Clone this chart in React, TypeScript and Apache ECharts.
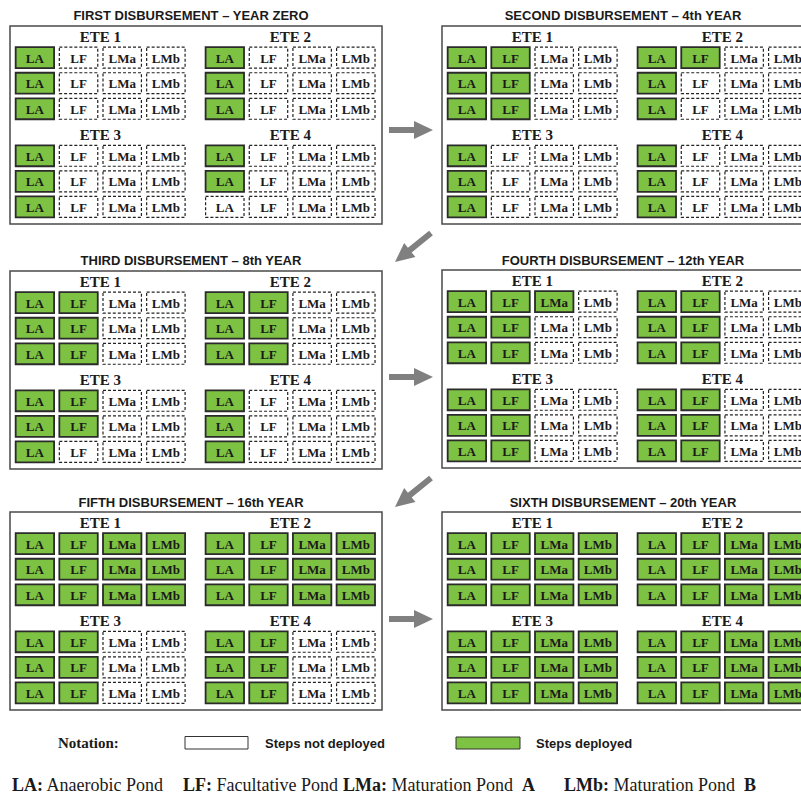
import React, { useEffect, useRef } from "react";
import * as echarts from "echarts";

// ---- data ----
const ponds = ["LA", "LF", "LMa", "LMb"];
const etes = ["ETE 1", "ETE 2", "ETE 3", "ETE 4"];
const unitsPerPond = 3;
const panelTitles = [
  "FIRST DISBURSEMENT – YEAR ZERO",
  "SECOND DISBURSEMENT – 4th YEAR",
  "THIRD DISBURSEMENT – 8th YEAR",
  "FOURTH DISBURSEMENT – 12th YEAR",
  "FIFTH DISBURSEMENT – 16th YEAR",
  "SIXTH DISBURSEMENT – 20th YEAR",
];
// number of deployed units (out of 3) for [LA, LF, LMa, LMb] in each ETE
const firstDeployed = [[3, 0, 0, 0], [3, 0, 0, 0], [3, 0, 0, 0], [2, 0, 0, 0]];
const secondDeployed = [[3, 3, 0, 0], [3, 1, 0, 0], [3, 0, 0, 0], [3, 0, 0, 0]];
const thirdDeployed = [[3, 3, 0, 0], [3, 3, 0, 0], [3, 2, 0, 0], [3, 0, 0, 0]];
const fourthDeployed = [[3, 3, 1, 0], [3, 3, 0, 0], [3, 3, 0, 0], [3, 3, 0, 0]];
const fifthDeployed = [[3, 3, 3, 3], [3, 3, 3, 3], [3, 3, 0, 0], [3, 3, 0, 0]];
const sixthDeployed = [[3, 3, 3, 3], [3, 3, 3, 3], [3, 3, 3, 3], [3, 3, 3, 3]];
const legendLabels = ["Steps not deployed", "Steps deployed"];
const notation = [
  { code: "LA:", name: "Anaerobic Pond", suffix: "" },
  { code: "LF:", name: "Facultative Pond", suffix: "" },
  { code: "LMa:", name: "Maturation Pond", suffix: "A" },
  { code: "LMb:", name: "Maturation Pond", suffix: "B" },
];

const allPanels = [firstDeployed, secondDeployed, thirdDeployed, fourthDeployed, fifthDeployed, sixthDeployed];

// ---- layout / style ----
const GREEN = "#7dc242";
const SERIF = "Liberation Serif";
const SANS = "Liberation Sans";
const GAP_X = 4.35;
const GAP_Y = 3.84;
const panelBoxes = [
  { left: 10, top: 26, title: 15 },
  { left: 442, top: 26, title: 15 },
  { left: 10, top: 271, title: 260 },
  { left: 442, top: 270, title: 260 },
  { left: 10, top: 512, title: 502 },
  { left: 442, top: 512, title: 502 },
];
const BOX_W = 372;
const BOX_H = 198;
const CANVAS_W = 830;

function arrowPoints(tail: number[], tip: number[]) {
  const dx = tip[0] - tail[0];
  const dy = tip[1] - tail[1];
  const len = Math.sqrt(dx * dx + dy * dy);
  const ux = dx / len, uy = dy / len;
  const nx = -uy, ny = ux;
  const hw = 3, hh = 9, hl = 19;
  const bx = tip[0] - ux * hl, by = tip[1] - uy * hl;
  return [
    [tail[0] + nx * hw, tail[1] + ny * hw],
    [bx + nx * hw, by + ny * hw],
    [bx + nx * hh, by + ny * hh],
    [tip[0], tip[1]],
    [bx - nx * hh, by - ny * hh],
    [bx - nx * hw, by - ny * hw],
    [tail[0] - nx * hw, tail[1] - ny * hw],
  ];
}

export default function App() {
  const ref = useRef<HTMLDivElement>(null);
  useEffect(() => {
    if (!ref.current) return;
    const chart = echarts.init(ref.current, null, { renderer: "svg" });

    const grids: any[] = [];
    const xAxes: any[] = [];
    const yAxes: any[] = [];
    const series: any[] = [];
    const graphics: any[] = [];

    allPanels.forEach((panel, p) => {
      const box = panelBoxes[p];
      grids.push({
        left: box.left, top: box.top, width: BOX_W, height: BOX_H,
        show: true, borderColor: "#4a4a4a", borderWidth: 1.5, backgroundColor: "#fff",
        containLabel: false,
      });
      xAxes.push({ type: "value", gridIndex: p, min: -0.57, max: 7.95, show: false });
      yAxes.push({ type: "value", gridIndex: p, min: -1.24, max: 6.51, inverse: true, show: false });

      const cells: any[] = [];
      panel.forEach((counts, e) => {
        counts.forEach((n, c) => {
          for (let r = 0; r < unitsPerPond; r++) {
            cells.push([c + (e % 2) * GAP_X, r + Math.floor(e / 2) * GAP_Y, r < n ? 1 : 0, c]);
          }
        });
      });
      series.push({
        type: "custom",
        coordinateSystem: "cartesian2d",
        xAxisIndex: p,
        yAxisIndex: p,
        silent: true,
        clip: false,
        data: cells,
        renderItem: (params: any, api: any) => {
          const x = api.value(0), y = api.value(1), dep = api.value(2), c = api.value(3);
          const pt = api.coord([x, y]);
          const sz = api.size([0.88, 0.82]);
          const w = Math.abs(sz[0]), h = Math.abs(sz[1]);
          return {
            type: "group",
            children: [
              {
                type: "rect",
                shape: { x: pt[0] - w / 2, y: pt[1] - h / 2, width: w, height: h },
                style: dep
                  ? { fill: GREEN, stroke: "#2b2b2b", lineWidth: 1.8 }
                  : { fill: "#fff", stroke: "#222", lineWidth: 1.2, lineDash: [3, 2] },
              },
              {
                type: "text",
                x: pt[0],
                y: pt[1] + 0.5,
                style: {
                  text: ponds[c], align: "center", verticalAlign: "middle",
                  fontFamily: SERIF, fontWeight: "bold", fontSize: 13, fill: "#1a1a1a",
                },
              },
            ],
          };
        },
      });
      series.push({
        type: "custom",
        coordinateSystem: "cartesian2d",
        xAxisIndex: p,
        yAxisIndex: p,
        silent: true,
        clip: false,
        data: etes.map((name, e) => [1.5 + (e % 2) * GAP_X, -0.8 + Math.floor(e / 2) * GAP_Y, e]),
        renderItem: (params: any, api: any) => {
          const pt = api.coord([api.value(0), api.value(1)]);
          return {
            type: "text",
            x: pt[0],
            y: pt[1],
            style: {
              text: etes[api.value(2)], align: "center", verticalAlign: "middle",
              fontFamily: SERIF, fontWeight: "bold", fontSize: 15, fill: "#1a1a1a",
            },
          };
        },
      });
      graphics.push({
        type: "text",
        x: box.left + BOX_W / 2 - 5,
        y: box.title,
        style: {
          text: panelTitles[p], align: "center", verticalAlign: "middle",
          fontFamily: SANS, fontWeight: "bold", fontSize: 13, fill: "#1a1a1a",
        },
      });
    });

    // arrows between disbursements
    const arrows = [
      [[389, 130], [433, 130]],
      [[431, 233], [395, 262]],
      [[389, 377], [433, 377]],
      [[431, 478], [395, 507]],
      [[389, 619], [433, 619]],
    ];
    arrows.forEach(([tail, tip]) => {
      graphics.push({
        type: "polygon",
        shape: { points: arrowPoints(tail, tip) },
        style: { fill: "#808080" },
      });
    });

    // notation legend
    graphics.push({
      type: "text", x: 58, y: 743,
      style: { text: "Notation:", verticalAlign: "middle", fontFamily: SERIF, fontWeight: "bold", fontSize: 15, fill: "#1a1a1a" },
    });
    graphics.push({
      type: "rect", shape: { x: 185, y: 736.5, width: 63, height: 12.5 },
      style: { fill: "#fff", stroke: "#333", lineWidth: 1 },
    });
    graphics.push({
      type: "text", x: 265, y: 743,
      style: { text: legendLabels[0], verticalAlign: "middle", fontFamily: SANS, fontWeight: "bold", fontSize: 13, fill: "#1a1a1a" },
    });
    graphics.push({
      type: "rect", shape: { x: 456, y: 737, width: 64, height: 12 },
      style: { fill: GREEN, stroke: "#333", lineWidth: 1 },
    });
    graphics.push({
      type: "text", x: 536, y: 743,
      style: { text: legendLabels[1], verticalAlign: "middle", fontFamily: SANS, fontWeight: "bold", fontSize: 13, fill: "#1a1a1a" },
    });

    const notationX = [12, 183, 343, 564];
    notation.forEach((n, i) => {
      graphics.push({
        type: "text", x: notationX[i], y: 785,
        style: {
          text: `{b|${n.code}} ${n.name}` + (n.suffix ? `  {b|${n.suffix}}` : ""),
          verticalAlign: "middle",
          fontFamily: SERIF, fontSize: 18, fill: "#1a1a1a",
          rich: { b: { fontFamily: SERIF, fontSize: 18, fontWeight: "bold", fill: "#1a1a1a" } },
        },
      });
    });

    chart.setOption({
      animation: false,
      backgroundColor: "#fff",
      grid: grids,
      xAxis: xAxes,
      yAxis: yAxes,
      series,
      graphic: graphics,
    });
    return () => chart.dispose();
  }, []);
  return (
    <div
      style={{ position: "absolute", left: 0, top: 0, width: 801, height: 794, overflow: "hidden", background: "#fff" }}
    >
      <div ref={ref} style={{ width: CANVAS_W, height: 794 }} />
    </div>
  );
}
